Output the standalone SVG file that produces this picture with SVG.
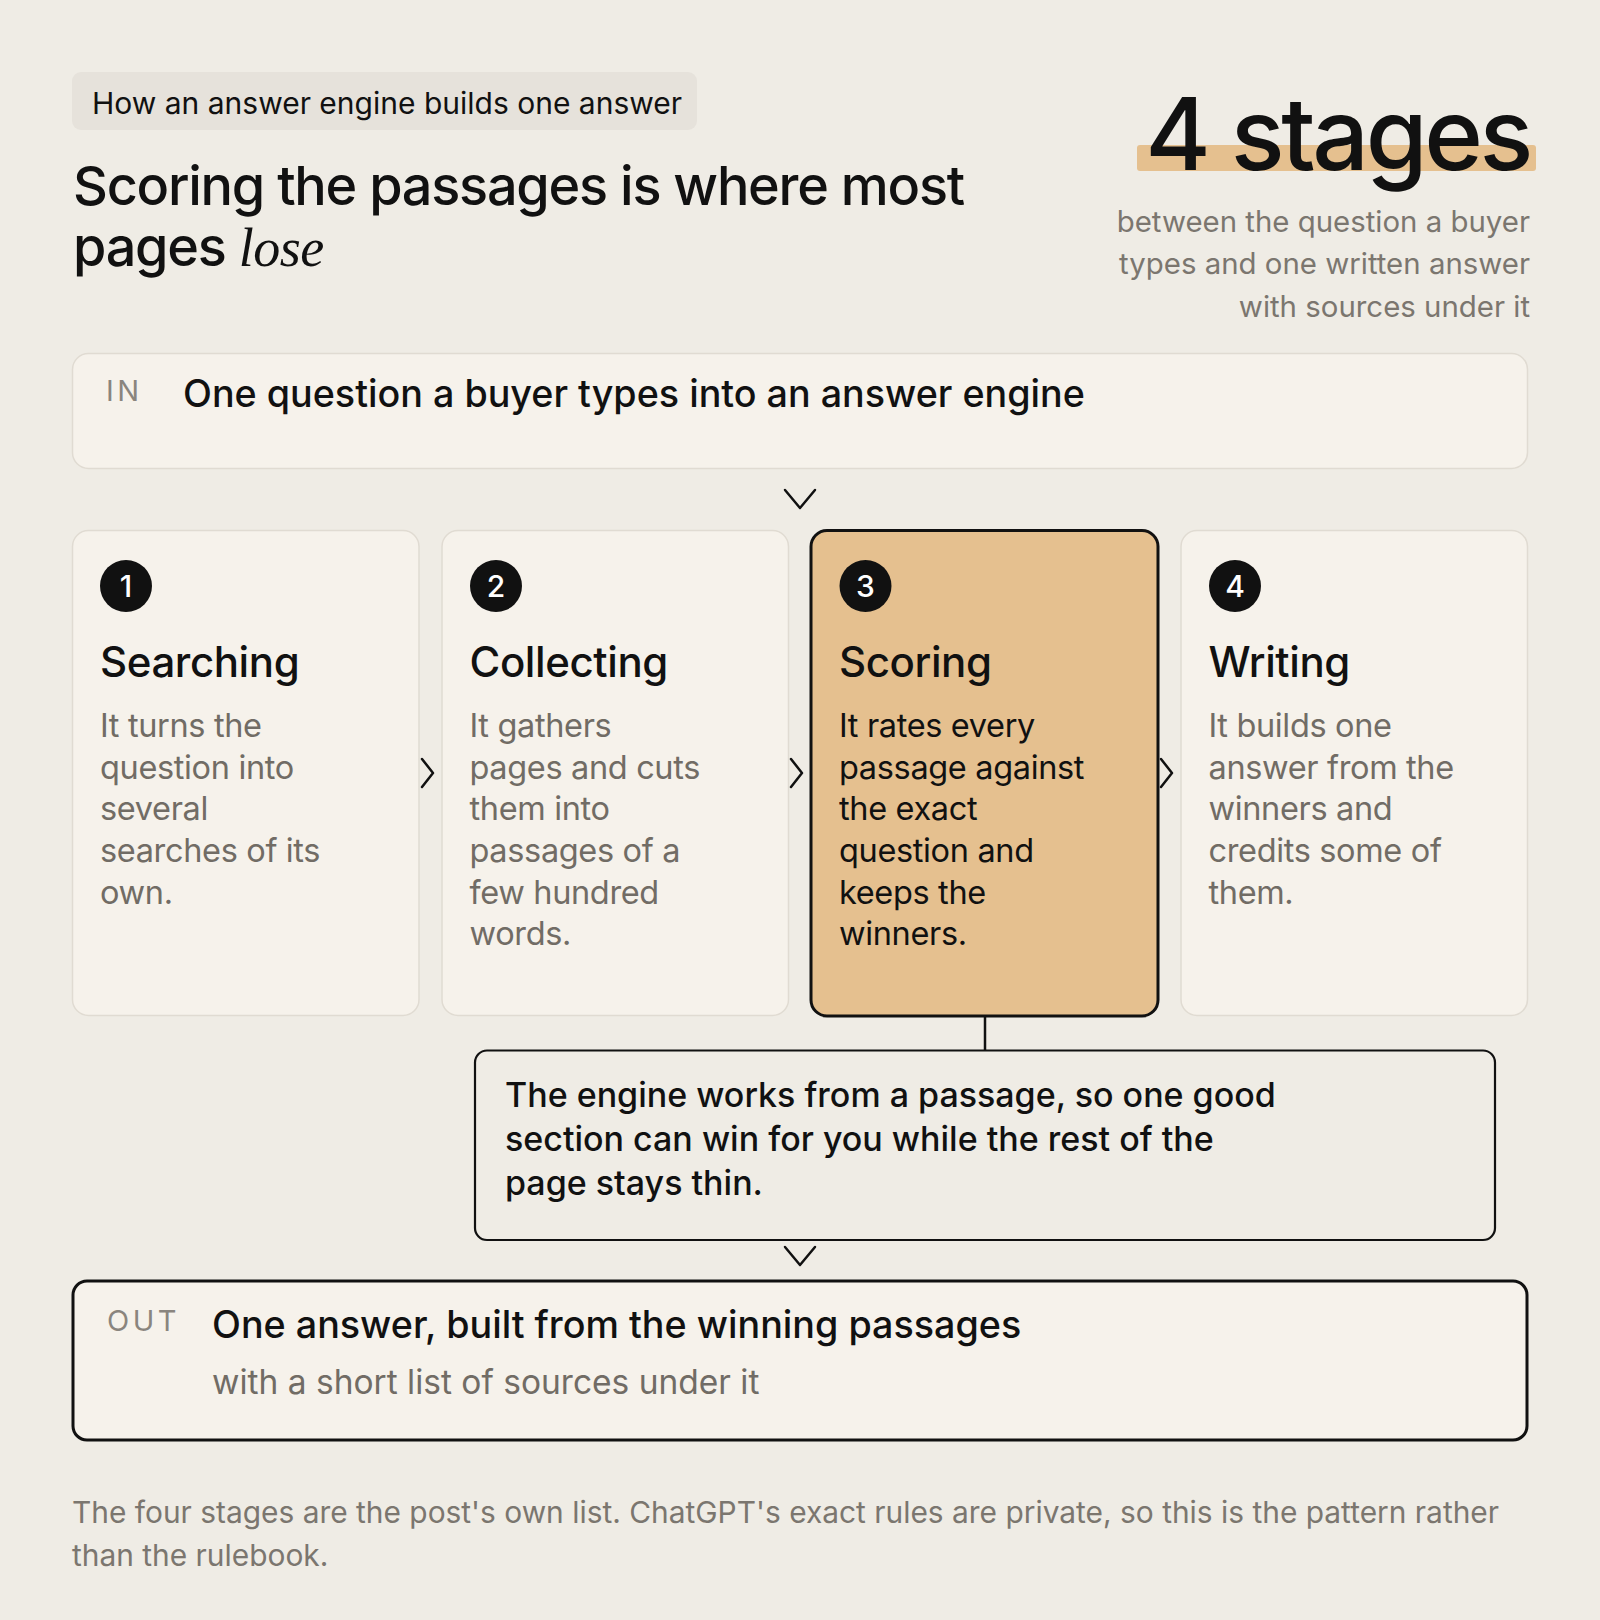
<svg xmlns="http://www.w3.org/2000/svg" width="1600" height="1620" viewBox="0 0 1600 1620">
<style>
text{font-family:Inter,"Noto Sans","Liberation Sans",sans-serif;}
.bg{fill:#efece5;}
.card{fill:#f6f2eb;stroke:#e0dbd2;stroke-width:1.5;}
.hot{fill:#e5c08f;stroke:#111;stroke-width:3;}
.dark{fill:#111;}
.num{fill:#fff;font-size:30px;font-weight:500;text-anchor:middle;}
.h{font-size:42px;font-weight:500;fill:#111;letter-spacing:-0.4px;}
.d{font-size:32.5px;fill:#716c65;letter-spacing:-0.35px;}
.d3{font-size:32.5px;fill:#111;letter-spacing:-0.35px;}
.lab{font-size:29px;fill:#8a857e;letter-spacing:3.5px;}
.big{font-size:37.7px;font-weight:500;fill:#111;}
.chev{fill:none;stroke:#111;stroke-width:2.5;stroke-linecap:round;stroke-linejoin:round;}
.line{fill:none;stroke:#111;stroke-width:2.5;}
</style>
<rect class="bg" x="0" y="0" width="1600" height="1620"/>

<g id="header">
<rect x="72" y="72" width="625" height="58" rx="9" fill="#e6e2db"/>
<text x="92" y="113.5" font-size="30" fill="#111">How an answer engine builds one answer</text>
<text x="73" y="204.5" font-size="54" font-weight="500" fill="#111" letter-spacing="-1.25">Scoring the passages is where most</text>
<text x="73" y="265.5" font-size="54" font-weight="500" fill="#111" letter-spacing="-1.25">pages <tspan font-family="'Liberation Serif','DejaVu Serif',serif" font-style="italic" font-weight="400" letter-spacing="-0.5">lose</tspan></text>
</g>

<g id="stat">
<rect x="1137" y="145" width="399" height="26" rx="3" fill="#e5c08f"/>
<text x="1530" y="170" font-size="100" font-weight="500" fill="#111" text-anchor="end" letter-spacing="-3.4">4 stages</text>
<text x="1530" y="232" font-size="29.4" fill="#7b766f" text-anchor="end">between the question a buyer</text>
<text x="1530" y="274" font-size="29.4" fill="#7b766f" text-anchor="end">types and one written answer</text>
<text x="1530" y="317" font-size="29.4" fill="#7b766f" text-anchor="end">with sources under it</text>
</g>

<g id="in">
<rect class="card" x="72.5" y="353.5" width="1455" height="115" rx="16"/>
<text class="lab" x="106" y="400.5">IN</text>
<text class="big" x="183" y="406.5">One question a buyer types into an answer engine</text>
</g>

<g id="stage1">
<rect class="card" x="72.5" y="530.5" width="346.5" height="485" rx="16"/>
<circle class="dark" cx="126" cy="586" r="26"/>
<text class="num" x="126" y="597">1</text>
<text class="h" x="100" y="677">Searching</text>
<text class="d"><tspan x="100" y="737">It turns the</tspan><tspan x="100" y="778.5">question into</tspan><tspan x="100" y="820">several</tspan><tspan x="100" y="862">searches of its</tspan><tspan x="100" y="903.5">own.</tspan></text>
</g>

<g id="stage2">
<rect class="card" x="442" y="530.5" width="346.5" height="485" rx="16"/>
<circle class="dark" cx="496" cy="586" r="26"/>
<text class="num" x="496" y="597">2</text>
<text class="h" x="469.5" y="677">Collecting</text>
<text class="d"><tspan x="469.5" y="737">It gathers</tspan><tspan x="469.5" y="778.5">pages and cuts</tspan><tspan x="469.5" y="820">them into</tspan><tspan x="469.5" y="862">passages of a</tspan><tspan x="469.5" y="903.5">few hundred</tspan><tspan x="469.5" y="945">words.</tspan></text>
</g>

<g id="stage3">
<rect class="hot" x="811" y="530.5" width="347" height="485.5" rx="16"/>
<circle class="dark" cx="865.5" cy="586" r="26"/>
<text class="num" x="865.5" y="597">3</text>
<text class="h" x="839" y="677">Scoring</text>
<text class="d3"><tspan x="839" y="737">It rates every</tspan><tspan x="839" y="778.5">passage against</tspan><tspan x="839" y="820">the exact</tspan><tspan x="839" y="862">question and</tspan><tspan x="839" y="903.5">keeps the</tspan><tspan x="839" y="945">winners.</tspan></text>
</g>

<g id="stage4">
<rect class="card" x="1181" y="530.5" width="346.5" height="485" rx="16"/>
<circle class="dark" cx="1235" cy="586" r="26"/>
<text class="num" x="1235" y="597">4</text>
<text class="h" x="1208.5" y="677">Writing</text>
<text class="d"><tspan x="1208.5" y="737">It builds one</tspan><tspan x="1208.5" y="778.5">answer from the</tspan><tspan x="1208.5" y="820">winners and</tspan><tspan x="1208.5" y="862">credits some of</tspan><tspan x="1208.5" y="903.5">them.</tspan></text>
</g>

<g id="callout">
<rect x="475" y="1050.5" width="1020" height="189.5" rx="12" fill="#efece5" stroke="#111" stroke-width="2.2"/>
<text font-size="34" font-weight="500" fill="#111"><tspan x="505" y="1107">The engine works from a passage, so one good</tspan><tspan x="505" y="1151">section can win for you while the rest of the</tspan><tspan x="505" y="1195">page stays thin.</tspan></text>
</g>

<g id="out">
<rect x="73" y="1281" width="1454" height="159" rx="14" fill="#f6f2eb" stroke="#111" stroke-width="3"/>
<text class="lab" x="107" y="1330.5">OUT</text>
<text class="big" x="212" y="1337.5">One answer, built from the winning passages</text>
<text x="212" y="1394" font-size="33.5" fill="#716c65">with a short list of sources under it</text>
</g>

<g id="footer">
<text font-size="29.9" fill="#7b766f"><tspan x="72" y="1523">The four stages are the post's own list. ChatGPT's exact rules are private, so this is the pattern rather</tspan><tspan x="72" y="1566">than the rulebook.</tspan></text>
</g>

<g id="connectors">
<polyline class="chev" points="785,490 800,508 815,490"/>
<polyline class="chev" points="422,759 433,773 422,787"/>
<polyline class="chev" points="791,759 802,773 791,787"/>
<polyline class="chev" points="1161,759 1172,773 1161,787"/>
<line class="line" x1="985" y1="1017" x2="985" y2="1050"/>
<polyline class="chev" points="785,1247 800,1265 815,1247"/>
</g>
</svg>
